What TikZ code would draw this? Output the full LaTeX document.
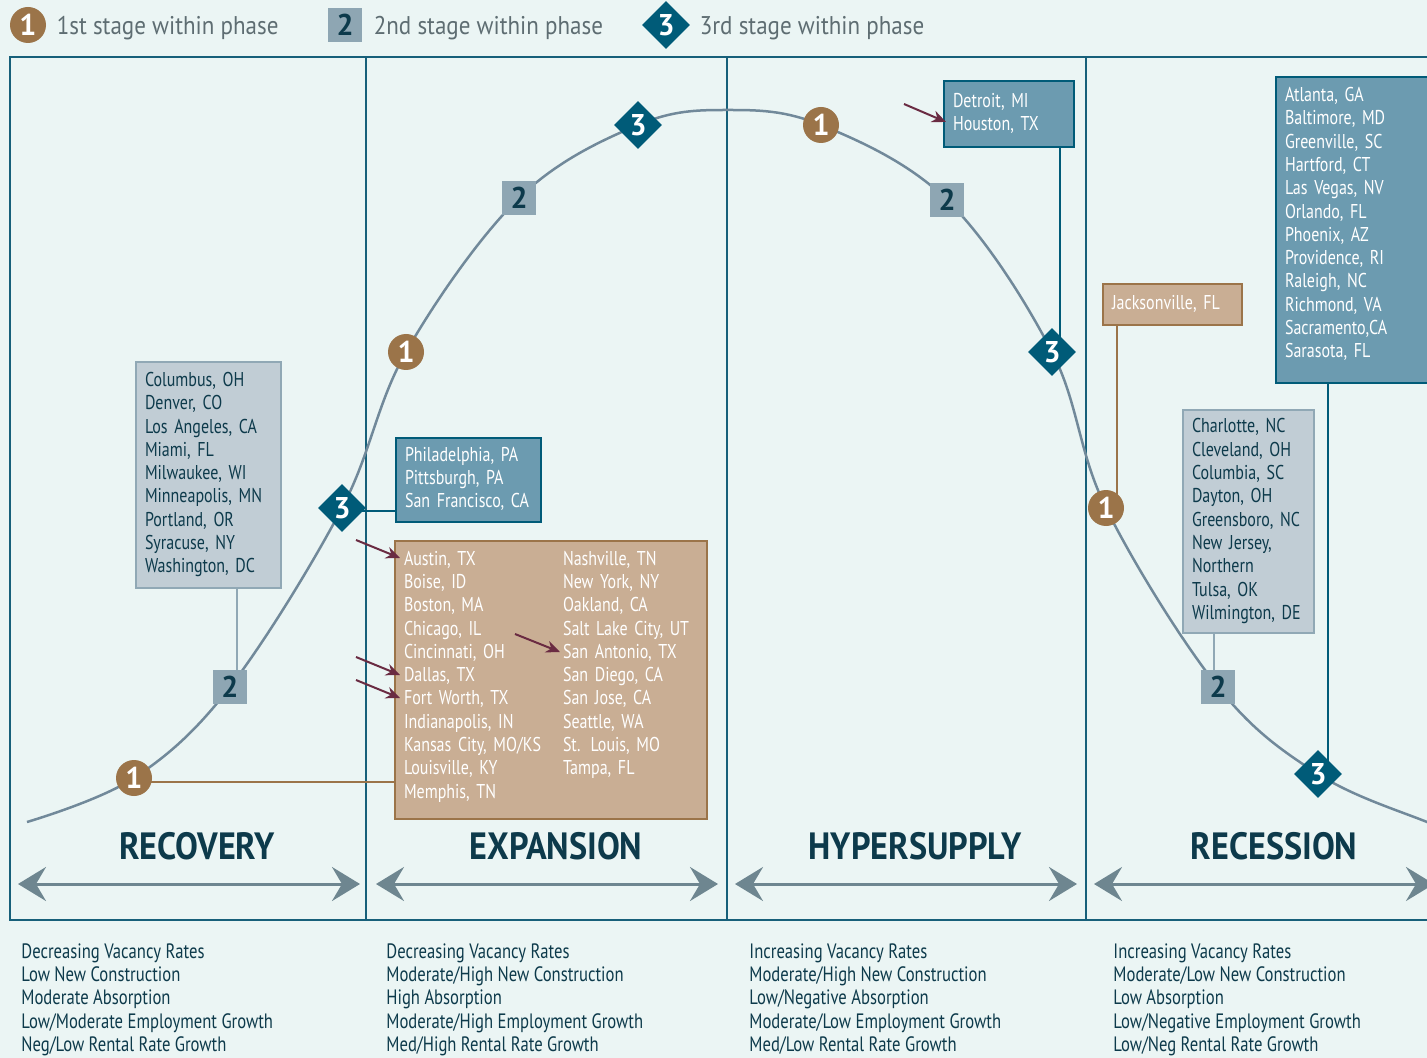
\documentclass[tikz,border=0pt]{standalone}
\usepackage{fontspec}
\setmainfont{PT Sans}
\newfontfamily\narrowfont[FakeStretch=0.8]{PT Sans}
\newfontfamily\legendfont[FakeStretch=0.9]{PT Sans}
\usetikzlibrary{arrows.meta,backgrounds,positioning,shapes.geometric,calc}

\definecolor{bgcol}{HTML}{EBF5F4}
\definecolor{framecol}{HTML}{17607A}
\definecolor{curvecol}{HTML}{71899A}
\definecolor{stagebrown}{HTML}{9B7449}
\definecolor{stagegray}{HTML}{8EA6B3}
\definecolor{stageteal}{HTML}{005B78}
\definecolor{boxblue}{HTML}{6C9BB0}
\definecolor{boxgray}{HTML}{C1CDD5}
\definecolor{boxgrayline}{HTML}{90A8B5}
\definecolor{boxtan}{HTML}{C9AE94}
\definecolor{darktext}{HTML}{0D3A4B}
\definecolor{pointcol}{HTML}{6A2B42}
\definecolor{arrowgray}{HTML}{6E8690}
\definecolor{legendgray}{HTML}{5E6D72}

\newcommand{\citylist}[1]{\begin{tabular}{@{}l@{}}#1\end{tabular}}

\begin{document}
\begin{tikzpicture}[x=0.5pt,y=-0.5pt,
  stageone/.style={circle,fill=stagebrown,text=white,minimum size=18pt,inner sep=0pt,
    font=\bfseries\fontsize{15}{15}\selectfont},
  stagetwo/.style={rectangle,fill=stagegray,text=darktext,minimum size=17pt,inner sep=0pt,
    font=\bfseries\fontsize{15}{15}\selectfont},
  stagethree/.style={diamond,fill=stageteal,text=white,minimum size=24pt,inner sep=0pt,
    font=\bfseries\fontsize{15}{15}\selectfont},
  citybox/.style={anchor=north west,line width=1pt,inner xsep=4.5pt,inner ysep=0pt,align=left,
    font=\narrowfont\fontsize{10}{11.65}\selectfont},
  bluebox/.style={citybox,fill=boxblue,draw=stageteal,text=white},
  graybox/.style={citybox,fill=boxgray,draw=boxgrayline,text=darktext},
  tanbox/.style={citybox,fill=boxtan,draw=stagebrown,text=white},
  bluelink/.style={draw=stageteal,line width=1pt},
  graylink/.style={draw=boxgrayline,line width=1pt},
  tanlink/.style={draw=stagebrown,line width=1pt},
  pointer/.style={draw=pointcol,line width=1pt,-{Stealth[length=7pt,width=6pt]}},
  phasearrow/.style={draw=arrowgray,line width=1.5pt,
    {Stealth[length=14pt,width=17pt,inset=5pt]}-{Stealth[length=14pt,width=17pt,inset=5pt]}},
  phase/.style={text=darktext,font=\legendfont\bfseries\fontsize{19}{19}\selectfont},
  traits/.style={anchor=north west,align=left,inner sep=0pt,text=darktext,
    font=\narrowfont\fontsize{10.4}{11.65}\selectfont},
  legend/.style={text=legendgray,inner sep=0pt,yshift=-1.5pt,
    font=\legendfont\fontsize{12.8}{12.8}\selectfont},
  cyclecurve/.style={draw=curvecol,line width=1.25pt}]
\useasboundingbox (0,0) rectangle (1427,1058);

\begin{scope}[on background layer]
\fill[bgcol] (0,0) rectangle (1427,1058);
\draw[framecol,line width=1pt] (10,57) rectangle (1445,920);
\draw[framecol,line width=1pt] (366,57) -- (366,920);
\draw[framecol,line width=1pt] (727,57) -- (727,920);
\draw[framecol,line width=1pt] (1086,57) -- (1086,920);
%\draw[cyclecurve] (27,822) .. controls (400,700) and (500,110) .. (727,110);
\draw[cyclecurve] plot[smooth,tension=0.6] coordinates {(27,822) (134,778) (230,687)
  (342,508) (406,352) (519,198) (638,125) (727,110) (821,125) (947,200) (1052,352)
  (1106,508) (1218,687) (1318,774) (1427,822) (1480,840)};
\end{scope}

% legend
\node[stageone] (leg1) at (28,25) {1};
\node[legend,right=5pt of leg1] {1st stage within phase};
\node[stagetwo] (leg2) at (345,25) {2};
\node[legend,right=5.5pt of leg2] {2nd stage within phase};
\node[stagethree] (leg3) at (666,25) {3};
\node[legend,right=4.5pt of leg3] {3rd stage within phase};

% stages on the curve
\node[stageone] (rec1) at (134,778) {1};
\node[stagetwo] (rec2) at (230,687) {2};
\node[stagethree] (rec3) at (342,508) {3};
\node[stageone] (exp1) at (406,352) {1};
\node[stagetwo] (exp2) at (519,198) {2};
\node[stagethree] (exp3) at (638,125) {3};
\node[stageone] (hyp1) at (821,125) {1};
\node[stagetwo] (hyp2) at (947,200) {2};
\node[stagethree] (hyp3) at (1052,352) {3};
\node[stageone] (res1) at (1106,508) {1};
\node[stagetwo] (res2) at (1218,687) {2};
\node[stagethree] (res3) at (1318,774) {3};

% markets
\node[graybox,text width=63.5pt,minimum height=113pt] (colbox) at (135,361)
  {\citylist{Columbus, OH\\Denver, CO\\Los Angeles, CA\\Miami, FL\\Milwaukee, WI\\
  Minneapolis, MN\\Portland, OR\\Syracuse, NY\\Washington, DC}};
\node[bluebox,text width=63.5pt,minimum height=42pt] (phibox) at (395,437)
  {\citylist{Philadelphia, PA\\Pittsburgh, PA\\San Francisco, CA}};
\node[tanbox,text width=147pt,minimum height=139pt] (ausbox) at (394,540)
  {\begin{tabular}{@{}p{79.5pt}@{}l@{}}
  Austin, TX & Nashville, TN\\
  Boise, ID & New York, NY\\
  Boston, MA & Oakland, CA\\
  Chicago, IL & Salt Lake City, UT\\
  Cincinnati, OH & San Antonio, TX\\
  Dallas, TX & San Diego, CA\\
  Fort Worth, TX & San Jose, CA\\
  Indianapolis, IN & Seattle, WA\\
  Kansas City, MO/KS & St. Louis, MO\\
  Louisville, KY & Tampa, FL\\
  Memphis, TN & \\[3pt]
  \end{tabular}};
\node[bluebox,text width=56pt,minimum height=33pt] (detbox) at (943,80)
  {\citylist{Detroit, MI\\Houston, TX}};
\node[tanbox,text width=60.5pt,minimum height=20.5pt] (jacbox) at (1102,283)
  {\citylist{Jacksonville, FL}};
\node[bluebox,text width=67pt,minimum height=153pt] (atlbox) at (1275,76)
  {\citylist{Atlanta, GA\\Baltimore, MD\\Greenville, SC\\Hartford, CT\\Las Vegas, NV\\
  Orlando, FL\\Phoenix, AZ\\Providence, RI\\Raleigh, NC\\Richmond, VA\\
  Sacramento,CA\\Sarasota, FL\\[5pt]}};
\node[graybox,text width=56.5pt,minimum height=111.5pt] (chabox) at (1182,409)
  {\citylist{Charlotte, NC\\Cleveland, OH\\Columbia, SC\\Dayton, OH\\Greensboro, NC\\
  New Jersey,\\Northern\\Tulsa, OK\\Wilmington, DE}};

\begin{scope}[on background layer]
\draw[graylink] ([xshift=3.5pt]rec2.center) -- ([xshift=3.5pt]rec2.center |- colbox.south);
\draw[tanlink] ([yshift=-2pt]rec1.center) -- ([yshift=-2pt]rec1.center -| ausbox.west);
\draw[bluelink] ([yshift=-1.5pt]rec3.center) -- ([yshift=-1.5pt]rec3.center -| phibox.west);
\draw[bluelink] ([xshift=4pt]hyp3.center) -- ([xshift=4pt]hyp3.center |- detbox.south);
\draw[tanlink] ([xshift=5.5pt]res1.center) -- ([xshift=5.5pt]res1.center |- jacbox.south);
\draw[graylink] ([xshift=-2pt]res2.center) -- ([xshift=-2pt]res2.center |- chabox.south);
\draw[bluelink] ([xshift=5pt]res3.center) -- ([xshift=5pt]res3.center |- atlbox.south);
\end{scope}

% movers
\coordinate (austail) at (356,540);
\coordinate (daltail) at (356,657);
\coordinate (forttail) at (356,680);
\coordinate (santail) at (515,634);
\coordinate (houtail) at (904,104);
\draw[pointer] (austail) -- ([shift={(3pt,-9pt)}]ausbox.north west);
\draw[pointer] (daltail) -- ([shift={(3pt,-67.5pt)}]ausbox.north west);
\draw[pointer] (forttail) -- ([shift={(3pt,-79pt)}]ausbox.north west);
\draw[pointer] (santail) -- ([shift={(83pt,-56pt)}]ausbox.north west);
\draw[pointer] (houtail) -- ([shift={(1.5pt,-21pt)}]detbox.north west);

% phases
\node[phase] (recovery) at (197,846) {RECOVERY};
\node[phase] (expansion) at (556,846) {EXPANSION};
\node[phase] (hypersupply) at (915,846) {HYPERSUPPLY};
\node[phase] (recession) at (1274,846) {RECESSION};
\draw[phasearrow] (18,884) -- (360,884);
\draw[phasearrow] (376,884) -- (718,884);
\draw[phasearrow] (735,884) -- (1077,884);
\draw[phasearrow] (1094,884) -- (1434,884);

\node[traits] (rectraits) at (21,943) {Decreasing Vacancy Rates\\Low New Construction\\
  Moderate Absorption\\Low/Moderate Employment Growth\\Neg/Low Rental Rate Growth};
\node[traits] (exptraits) at (386,943) {Decreasing Vacancy Rates\\Moderate/High New Construction\\
  High Absorption\\Moderate/High Employment Growth\\Med/High Rental Rate Growth};
\node[traits] (hyptraits) at (749,943) {Increasing Vacancy Rates\\Moderate/High New Construction\\
  Low/Negative Absorption\\Moderate/Low Employment Growth\\Med/Low Rental Rate Growth};
\node[traits] (restraits) at (1113,943) {Increasing Vacancy Rates\\Moderate/Low New Construction\\
  Low Absorption\\Low/Negative Employment Growth\\Low/Neg Rental Rate Growth};
\end{tikzpicture}
\end{document}
